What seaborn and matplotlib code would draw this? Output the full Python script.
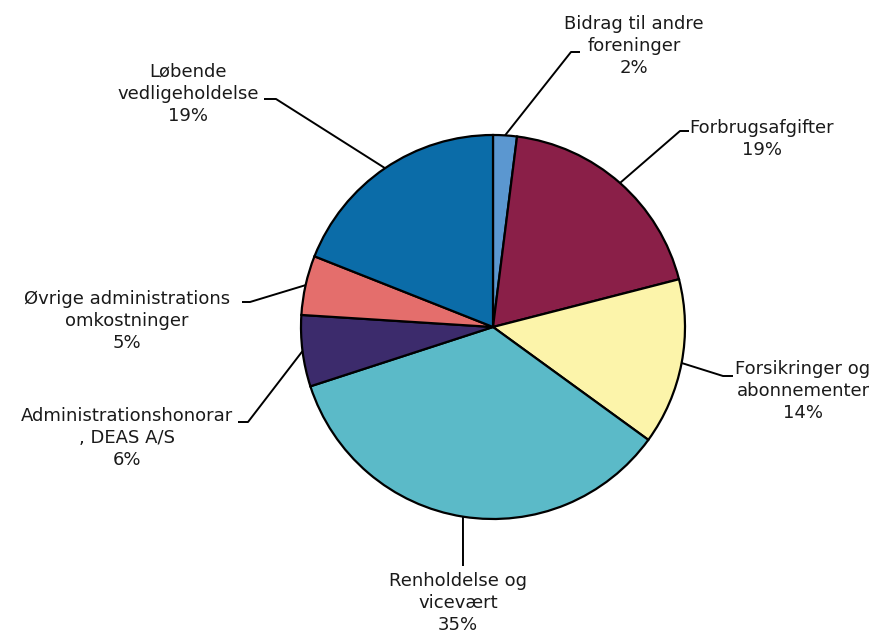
import numpy as np
import seaborn as sns
import matplotlib.pyplot as plt

# ==========================================
# data
# ==========================================
labels = ["Bidrag til andre\nforeninger", "Forbrugsafgifter", "Forsikringer og\nabonnementer",
          "Renholdelse og\nvicevært", "Administrationshonorar\n, DEAS A/S",
          "Øvrige administrations\nomkostninger", "Løbende\nvedligeholdelse"]
values = [2, 19, 14, 35, 6, 5, 19]
colors = ["#5b97d0", "#8a1f48", "#fcf4aa", "#5bbac8", "#3c2b6c", "#e46e6c", "#0b6ca8"]

# label layout (pixel positions in the 875x633 picture)
text_pos = [(634, 46), (762, 139), (803, 391), (458, 603), (127, 438), (127, 321), (188, 94)]
elbows = [[(571, 52), (580, 52)], [(680, 131), (689, 131)], [(723, 376), (733, 376)],
          [(463, 566)], [(248, 422), (238, 422)], [(250, 302), (242, 302)], [(276, 99), (264, 99)]]

CX, CY, R = 493, 327, 192


def px(x, y):
    # picture pixels -> data units (pie radius = 1)
    return (x - CX) / R, (CY - y) / R


sns.set_theme(style="white")
plt.rcParams['font.family'] = ['DejaVu Sans']

fig = plt.figure(figsize=(8.75, 6.33), dpi=100)
ax = fig.add_axes([0, 0, 1, 1])

wedges, _ = ax.pie(values, colors=colors, startangle=90, counterclock=False,
                   wedgeprops=dict(edgecolor='black', linewidth=1.6))

for w, lab, val, tp, pts in zip(wedges, labels, values, text_pos, elbows):
    mid = np.deg2rad((w.theta1 + w.theta2) / 2)
    path = [(np.cos(mid), np.sin(mid))] + [px(*p) for p in pts]
    xs, ys = zip(*path)
    ax.plot(xs, ys, color='black', linewidth=1.4, solid_capstyle='butt')
    tx, ty = px(*tp)
    ax.text(tx, ty, f"{lab}\n{val}%", ha='center', va='center', fontsize=13,
            linespacing=1.3, color='#1a1a1a')

ax.set_aspect('auto')
ax.set_xlim(-CX / R, (875 - CX) / R)
ax.set_ylim(-(633 - CY) / R, CY / R)
ax.axis('off')

fig.savefig("out.png", dpi=100)
